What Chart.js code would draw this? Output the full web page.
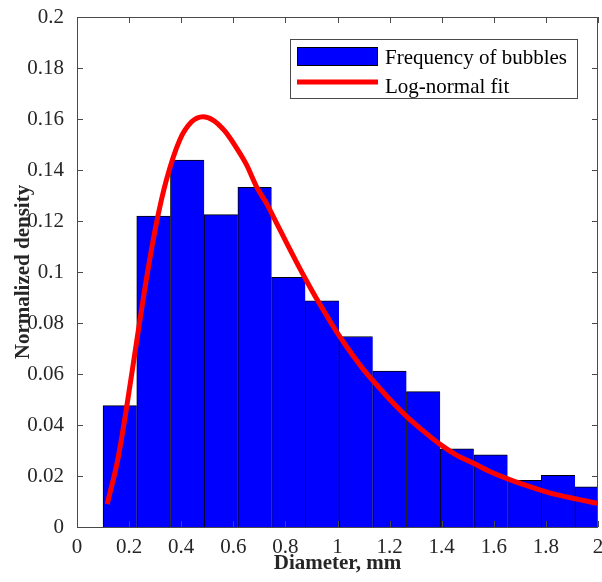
<!DOCTYPE html>
<html><head><meta charset="utf-8">
<script src="https://cdn.jsdelivr.net/npm/chart.js@4.4.1/dist/chart.umd.min.js"></script>
<style>html,body{margin:0;padding:0;background:#fff;}canvas{display:block;}</style>
</head><body>
<canvas id="c" width="602" height="582"></canvas>
<script>
// ---- data ----
const binCenters = [0.1647, 0.2941, 0.4235, 0.5529, 0.6823, 0.8117, 0.9411, 1.0705, 1.1999, 1.3293, 1.4587, 1.5881, 1.7175, 1.8469, 1.9763];
const frequency  = [0.0476, 0.1219, 0.1439, 0.1225, 0.1332, 0.0979, 0.0887, 0.0747, 0.0611, 0.0531, 0.0307, 0.0283, 0.0183, 0.0203, 0.0158];
const fitX = [0.116, 0.157, 0.19, 0.233, 0.268, 0.305, 0.343, 0.394, 0.439, 0.484, 0.522, 0.567, 0.612, 0.651, 0.689, 0.728, 0.766, 0.805, 0.843, 0.882, 0.921, 0.959, 0.998, 1.036, 1.1, 1.163, 1.2, 1.266, 1.33, 1.394, 1.46, 1.522, 1.58, 1.651, 1.71, 1.779, 1.84, 1.907, 1.95, 1.997];
const fitY = [0.0090, 0.0267, 0.0466, 0.0754, 0.0982, 0.1192, 0.1360, 0.1517, 0.1588, 0.1609, 0.1596, 0.1553, 0.1487, 0.1420, 0.1335, 0.1268, 0.1192, 0.1113, 0.1038, 0.0964, 0.0893, 0.0828, 0.0763, 0.0706, 0.0617, 0.0543, 0.0501, 0.0433, 0.0376, 0.0324, 0.0280, 0.0250, 0.0220, 0.0190, 0.0168, 0.0145, 0.0127, 0.0112, 0.0103, 0.0093];
const xTicks = [0, 0.2, 0.4, 0.6, 0.8, 1, 1.2, 1.4, 1.6, 1.8, 2];
const xTickLabels = ['0', '0.2', '0.4', '0.6', '0.8', '1', '1.2', '1.4', '1.6', '1.8', '2'];
const yTicks = [0, 0.02, 0.04, 0.06, 0.08, 0.1, 0.12, 0.14, 0.16, 0.18, 0.2];
const yTickLabels = ['0', '0.02', '0.04', '0.06', '0.08', '0.1', '0.12', '0.14', '0.16', '0.18', '0.2'];
const seriesNames = ['Frequency of bubbles', 'Log-normal fit'];
const xTitle = 'Diameter, mm';
const yTitle = 'Normalized density';

// ---- styling ----
const FONT = '"Liberation Serif", "Times New Roman", serif';
const AXIS = '#4a4a4a';
const TEXT = '#262626';
const BLUE = '#0000ff';
const RED = '#ff0000';

const boxAndTicks = {
  id: 'boxAndTicks',
  afterDatasetsDraw(chart) {
    const ctx = chart.ctx;
    const {left, right, top, bottom} = chart.chartArea;
    const xs = chart.scales.x, ys = chart.scales.y;
    const TL = 6;
    ctx.save();
    ctx.strokeStyle = AXIS;
    ctx.lineWidth = 1;
    ctx.beginPath();
    xs.ticks.forEach(t => {
      const p = Math.round(xs.getPixelForValue(t.value)) + 0.5;
      ctx.moveTo(p, bottom); ctx.lineTo(p, bottom - TL);
      ctx.moveTo(p, top); ctx.lineTo(p, top + TL);
    });
    ys.ticks.forEach(t => {
      const p = Math.round(ys.getPixelForValue(t.value)) + 0.5;
      ctx.moveTo(left, p); ctx.lineTo(left + TL, p);
      ctx.moveTo(right, p); ctx.lineTo(right - TL, p);
    });
    ctx.stroke();
    ctx.strokeRect(Math.round(left) + 0.5, Math.round(top) + 0.5, Math.round(right - left) - 1, Math.round(bottom - top));

    // legend
    const lx = 290, ly = 39, lw = 288, lh = 60;
    ctx.fillStyle = '#fff';
    ctx.fillRect(lx, ly, lw, lh);
    ctx.strokeStyle = AXIS;
    ctx.strokeRect(lx + 0.5, ly + 0.5, lw - 1, lh - 1);
    ctx.fillStyle = BLUE;
    ctx.fillRect(297, 47, 81, 19);
    ctx.strokeStyle = '#000';
    ctx.strokeRect(297.5, 47.5, 80, 18);
    ctx.strokeStyle = RED;
    ctx.lineWidth = 5;
    ctx.beginPath();
    ctx.moveTo(297, 82); ctx.lineTo(378, 82);
    ctx.stroke();
    ctx.fillStyle = '#000';
    ctx.font = '21px ' + FONT;
    ctx.textBaseline = 'alphabetic';
    ctx.textAlign = 'left';
    ctx.fillText(seriesNames[0], 385, 64);
    ctx.fillText(seriesNames[1], 385, 93);
    ctx.restore();
  }
};

new Chart(document.getElementById('c'), {
  type: 'bar',
  data: {
    datasets: [
      {
        type: 'line',
        label: seriesNames[1],
        data: fitX.map((x, i) => ({x, y: fitY[i]})),
        borderColor: RED,
        borderWidth: 5,
        pointRadius: 0,
        fill: false,
        cubicInterpolationMode: 'monotone',
        borderJoinStyle: 'round',
        order: 0
      },
      {
        type: 'bar',
        label: seriesNames[0],
        data: binCenters.map((x, i) => ({x, y: frequency[i]})),
        backgroundColor: BLUE,
        borderColor: '#000',
        borderWidth: {top: 1, left: 1, right: 0, bottom: 0},
        borderSkipped: false,
        barPercentage: 1,
        categoryPercentage: 1,
        grouped: false,
        order: 1
      }
    ]
  },
  options: {
    responsive: false,
    animation: false,
    events: [],
    layout: {padding: {top: 17, right: 4, left: 0, bottom: 0}},
    plugins: {legend: {display: false}, tooltip: {enabled: false}},
    scales: {
      x: {
        type: 'linear',
        min: 0, max: 2,
        offset: false,
        grid: {display: false, offset: false},
        border: {display: false},
        afterBuildTicks: s => { s.ticks = xTicks.map(v => ({value: v})); },
        afterFit: s => { s.height = 55; s.paddingLeft = 0; s.paddingRight = 0; },
        ticks: {
          callback: (v, i) => xTickLabels[i],
          color: TEXT,
          font: {family: FONT, size: 21},
          padding: 0,
          maxRotation: 0,
          autoSkip: false
        },
        title: {display: true, text: xTitle, color: TEXT, font: {family: FONT, size: 21, weight: 'bold'}, padding: {top: 0, bottom: 6}}
      },
      y: {
        type: 'linear',
        min: 0, max: 0.2,
        grid: {display: false},
        border: {display: false},
        afterBuildTicks: s => { s.ticks = yTicks.map(v => ({value: v})); },
        afterFit: s => { s.width = 77; s.paddingTop = 0; s.paddingBottom = 0; },
        ticks: {
          callback: (v, i) => yTickLabels[i],
          color: TEXT,
          font: {family: FONT, size: 21},
          padding: 5,
          autoSkip: false
        },
        title: {display: true, text: yTitle, color: TEXT, font: {family: FONT, size: 21, weight: 'bold'}, padding: {top: 11, bottom: 0}}
      }
    }
  },
  plugins: [boxAndTicks]
});
</script>
</body></html>
